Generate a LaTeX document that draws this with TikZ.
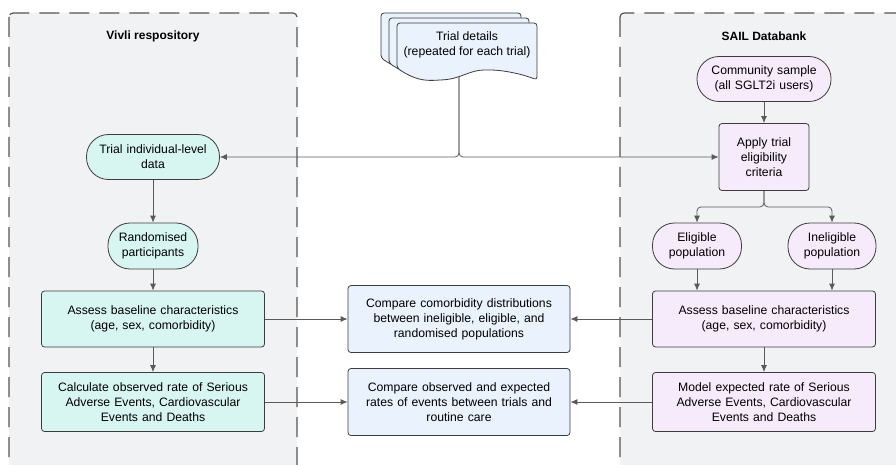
\documentclass[tikz,border=0pt]{standalone}
\usepackage{fontspec}
\setmainfont{Liberation Sans}
\usepackage{xcolor}
\usepackage{tikz}
\usetikzlibrary{arrows}
\usetikzlibrary{arrows.meta}

\definecolor{panelgray}{HTML}{F1F2F4}
\definecolor{panelline}{HTML}{555555}
\definecolor{mintfill}{HTML}{D8F6F1}
\definecolor{pinkfill}{HTML}{F6EBFB}
\definecolor{bluefill}{HTML}{EAF2FD}
\definecolor{boxline}{HTML}{3C3C3C}
\definecolor{linegray}{HTML}{5A5A5A}

% one sheet of the stacked document, shifted by (#1,#2)
\newcommand{\docsheet}[2]{%
  \draw[docshape, shift={(#1,#2)}] (397,68) -- (397,23) -- (537,23) -- (537,80)
    .. controls (525,75) and (505,70) .. (487,70)
    .. controls (470,70) and (460,79) .. (440,80)
    .. controls (425,81) and (415,80) .. (397,68) -- cycle;}

\begin{document}
\begin{tikzpicture}[x=1pt, y=-1pt, node distance=80pt,
    >={Latex[width=6pt,length=7pt]},
    base/.style = {rectangle, draw=boxline, line width=0.8pt, align=center,
                   inner sep=0pt, font=\fontsize{12.2}{15}\selectfont},
    mintcap/.style = {base, rounded corners=22pt, fill=mintfill},
    mintbox/.style = {base, rounded corners=3pt, fill=mintfill,
                      minimum width=223pt, text width=214pt},
    pinkcap/.style = {base, rounded corners=22pt, fill=pinkfill},
    pinkbox/.style = {base, rounded corners=3pt, fill=pinkfill,
                      minimum width=223pt, text width=214pt},
    bluebox/.style = {base, rounded corners=3pt, fill=bluefill,
                      minimum width=222pt, minimum height=67pt, text width=214pt},
    heading/.style = {font=\bfseries\fontsize{12}{15}\selectfont},
    panel/.style = {draw=panelline, fill=panelgray, line width=1.2pt,
                    dash pattern=on 20pt off 10pt, rounded corners=4pt},
    docshape/.style = {draw=boxline, fill=bluefill, line width=0.8pt,
                       rounded corners=3pt},
    flow/.style = {color=linegray, line width=0.8pt}]
  \useasboundingbox (0,0) rectangle (896,465);
  \clip (0,0) rectangle (896,465);

  % the two data sources
  \draw[panel] (9,13) rectangle (297,490);
  \draw[panel] (620,13) rectangle (920,490);
  \node (vivli) [heading] at (153,36) {Vivli respository};
  \node (sail) [heading] at (764,36) {SAIL Databank};

  % trial details (stack of sheets)
  \docsheet{-16}{-10}
  \docsheet{-8}{-5}
  \docsheet{0}{0}
  \node (details) [font=\fontsize{12.2}{15}\selectfont, align=center] at (467,45)
    {Trial details\\(repeated for each trial)};
  \coordinate (docbot) at (459,77);

  % Vivli side
  \node (tdata) [mintcap, minimum width=133pt, minimum height=45pt,
                 text width=127pt] at (153,157) {Trial individual-level\\data};
  \node (rand) [mintcap, minimum width=90pt, minimum height=46pt, text width=86pt,
                node distance=89pt, below of=tdata] {Randomised\\participants};
  \node (assessL) [mintbox, minimum height=56pt, node distance=73pt,
                   below of=rand] {Assess baseline characteristics\\(age, sex, comorbidity)};
  \node (calc) [mintbox, minimum height=59pt, node distance=83pt, below of=assessL]
    {Calculate observed rate of Serious\\Adverse Events, Cardiovascular\\Events and Deaths};

  % comparisons
  \node (cmpA) [bluebox, node distance=306pt, right of=assessL]
    {Compare comorbidity distributions\\between ineligible, eligible, and\\randomised populations};
  \node (cmpB) [bluebox, node distance=306pt, right of=calc]
    {Compare observed and expected\\rates of events between trials and\\routine care};

  % SAIL side
  \node (comm) [pinkcap, minimum width=134pt, minimum height=45pt,
                text width=127pt] at (764,79) {Community sample\\(all SGLT2i users)};
  \node (apply) [base, rounded corners=3pt, fill=pinkfill, minimum width=90pt,
                 minimum height=67pt, text width=86pt, node distance=78pt,
                 below of=comm] {Apply trial\\eligibility\\criteria};
  \node (elig) [pinkcap, minimum width=89pt, minimum height=46pt, text width=86pt]
    at (697,246) {Eligible\\population};
  \node (inelig) [pinkcap, minimum width=88pt, minimum height=46pt, text width=86pt]
    at (832,246) {Ineligible\\population};
  \node (assessR) [pinkbox, minimum height=56pt] at (764,319)
    {Assess baseline characteristics\\(age, sex, comorbidity)};
  \node (modelR) [pinkbox, minimum height=59pt, node distance=83pt, below of=assessR]
    {Model expected rate of Serious\\Adverse Events, Cardiovascular\\Events and Deaths};

  \draw[->, flow, rounded corners=4pt] (docbot) |- (tdata.east);
  \draw[->, flow, rounded corners=4pt] (docbot) |- (apply.west);
  \draw[->, flow, rounded corners=4pt] (apply.south) -- ++(0,16) -| (elig.north);
  \draw[->, flow, rounded corners=4pt] (apply.south) -- ++(0,16) -| (inelig.north);

  \path[->, flow]
    (tdata) edge (rand)
    (rand) edge (assessL)
    (assessL) edge (calc)
    (assessL) edge (cmpA)
    (calc) edge (cmpB)
    (comm) edge (apply)
    (elig) edge (elig |- assessR.north)
    (inelig) edge (inelig |- assessR.north)
    (assessR) edge (modelR)
    (assessR) edge (cmpA)
    (modelR) edge (cmpB);
\end{tikzpicture}
\end{document}
